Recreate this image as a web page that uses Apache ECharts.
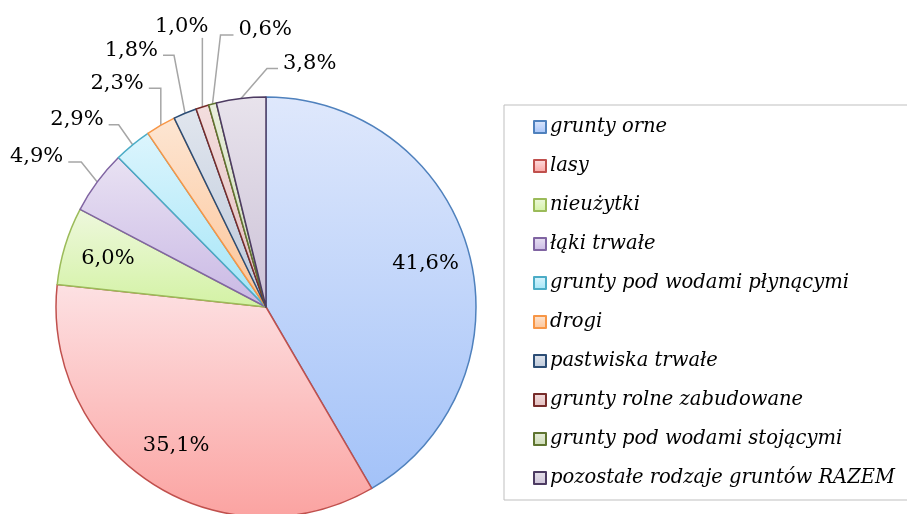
<!DOCTYPE html>
<html>
<head>
<meta charset="utf-8">
<script src="https://cdn.jsdelivr.net/npm/echarts@6/dist/echarts.min.js"></script>
<style>
html,body{margin:0;padding:0;background:#fff;}
#chart{width:907px;height:514px;}
</style>
</head>
<body>
<div id="chart"></div>
<script>
// ---- data ----
var categories = [
  'grunty orne',
  'lasy',
  'nieużytki',
  'łąki trwałe',
  'grunty pod wodami płynącymi',
  'drogi',
  'pastwiska trwałe',
  'grunty rolne zabudowane',
  'grunty pod wodami stojącymi',
  'pozostałe rodzaje gruntów RAZEM'
];
var values = [41.6, 35.1, 6.0, 4.9, 2.9, 2.3, 1.8, 1.0, 0.6, 3.8];

// ---- styles ----
var borderColors = ['#4f81bd','#c0504d','#9bbb59','#8064a2','#4bacc6','#f79646','#2c4d75','#772c2a','#5f7530','#4d3b62'];
var topColors    = ['#dfe8fc','#fde1e3','#eef8dd','#e9e2f3','#dcf5fd','#fde6d3','#e1e6ee','#f3dede','#e9efdd','#e8e3ec'];
var bottomColors = ['#a3c2f8','#fba3a1','#d3f2a4','#c9b8e4','#a3e5f7','#fcc497','#bcc8da','#e2bdbd','#ccdab5','#ccc2d7'];
var insideLabel = [true, true, true, false, false, false, false, false, false, false];
// outside label leader geometry: [elbow dx, elbow dy, horizontal length] relative to slice edge point
var outerLeader = [null, null, null, [-16,-20,-13], [-14,-20,-10], [0,-37,-12], [-11,-58,-11], [0,-69,0], [8,-69,13], [26,-30,11]];

var CX = 266, CY = 307, R = 210;
var FONT = '"DejaVu Serif", serif';

function fmt(v){ return v.toFixed(1).replace('.', ',') + '%'; }

var total = values.reduce(function(a,b){return a+b;},0);
var cum = 0;
var midAngles = values.map(function(v){ var m = cum + v/2; cum += v; return m/total*2*Math.PI; });

var seriesData = categories.map(function(name, i){
  return {
    name: name,
    value: values[i],
    itemStyle: {
      color: new echarts.graphic.LinearGradient(0,0,0,1,[
        {offset:0, color: topColors[i]},
        {offset:1, color: bottomColors[i]}
      ]),
      borderColor: borderColors[i],
      borderWidth: 1.5
    },
    label: { position: insideLabel[i] ? 'inside' : 'outside' },
    labelLine: { show: !insideLabel[i] }
  };
});

var chart = echarts.init(document.getElementById('chart'), null, {renderer:'canvas'});
chart.setOption({
  animation: false,
  backgroundColor: '#ffffff',
  legend: {
    orient: 'vertical',
    left: 504,
    top: 105,
    padding: [12, 60, 12, 29],
    borderColor: '#bfbfbf',
    borderWidth: 1,
    itemWidth: 12,
    itemHeight: 12,
    itemGap: 19,
    icon: 'rect',
    textStyle: { fontFamily: FONT, fontStyle: 'italic', fontSize: 19.5, color: '#000', lineHeight: 20, padding: [0,0,0,-1] },
    data: categories
  },
  series: [{
    type: 'pie',
    center: [CX, CY],
    radius: [0, R],
    startAngle: 90,
    clockwise: true,
    avoidLabelOverlap: false,
    label: {
      show: true,
      fontFamily: FONT,
      fontSize: 21,
      color: '#000',
      formatter: function(p){ return fmt(p.value); }
    },
    labelLine: { show: true, length: 10, length2: 10, lineStyle: { color: '#a6a6a6', width: 1.5 } },
    emphasis: { disabled: true },
    labelLayout: function(p){
      var i = p.dataIndex;
      if (insideLabel[i]) {
        var lx = p.labelRect.x + p.labelRect.width/2;
        var ly = p.labelRect.y + p.labelRect.height/2;
        var k = 1.53;
        return { x: CX + (lx-CX)*k, y: CY + (ly-CY)*k, align: 'center', verticalAlign: 'middle' };
      }
      var a = midAngles[i];
      var ax = CX + R*Math.sin(a), ay = CY - R*Math.cos(a);
      var g = outerLeader[i];
      var ex = ax + g[0], ey = ay + g[1];
      var endX = ex + g[2], endY = ey;
      var res = { labelLinePoints: [[ax,ay],[ex,ey],[endX,endY]], verticalAlign: 'middle' };
      if (g[2] < 0) { res.x = endX - 5; res.y = endY - 5; res.align = 'right'; }
      else if (g[2] > 0) { res.x = endX + 5; res.y = endY - 5; res.align = 'left'; }
      else { res.x = endX + 6; res.y = endY - 11; res.align = 'right'; }
      return res;
    },
    data: seriesData
  }]
});
</script>
</body>
</html>
